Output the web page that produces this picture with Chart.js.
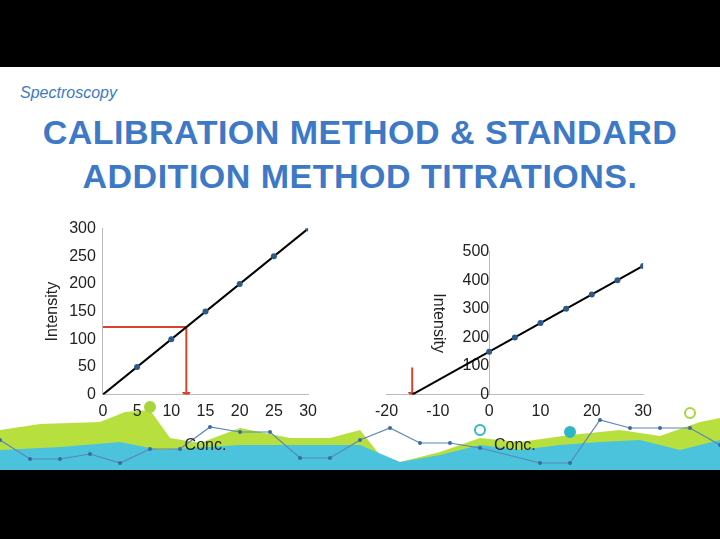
<!DOCTYPE html>
<html><head><meta charset="utf-8">
<script src="https://cdn.jsdelivr.net/npm/chart.js@4"></script>
<style>
body{margin:0;width:720px;height:539px;background:#000;position:relative;overflow:hidden;font-family:"Liberation Sans",Arial,sans-serif}
#slide{position:absolute;left:0;top:67px;width:720px;height:403px;background:#fff}
.t{position:absolute;left:0;width:720px;text-align:center;color:#3d79c6;font-weight:bold;font-size:34px;letter-spacing:0.5px}
#sub{position:absolute;left:20px;top:84px;color:#3d79c6;font-style:italic;font-size:16px}
canvas{position:absolute}
</style></head><body>
<div id="slide"></div>
<div id="sub">Spectroscopy</div>
<div class="t" style="top:113px">CALIBRATION METHOD &amp; STANDARD</div>
<div class="t" style="top:157px">ADDITION METHOD TITRATIONS.</div>
<canvas id="wave" style="left:0;top:395px;width:720px;height:75px"></canvas>
<canvas id="c1" style="left:39px;top:216px;width:281px;height:243px"></canvas>
<canvas id="c2" style="left:372px;top:239px;width:283px;height:220px"></canvas>
<script>
// calibration curve
const calX = [5, 10, 15, 20, 25, 30];
const calY = [50, 100, 150, 200, 250, 300];
const calFit = [[0, 0], [30, 300]];
const calArrow = [[0, 122], [12.2, 122], [12.2, 0]];
// standard addition
const addX = [0, 5, 10, 15, 20, 25, 30];
const addY = [150, 200, 250, 300, 350, 400, 450];
const addFit = [[-15, 0], [30, 450]];
const addArrow = [[-15, 95], [-15, 0]];
// decorative footer (pixel-ish coords)
const greenTop = [[0,430],[40,424],[100,422],[125,412],[150,410],[170,438],[200,443],[240,428],[290,438],[330,438],[360,430],[380,455],[400,462],[440,452],[480,438],[520,442],[570,435],[620,430],[660,436],[700,422],[720,418]];
const tealTop = [[0,450],[60,447],[120,442],[160,450],[240,445],[300,445],[360,445],[400,462],[440,455],[480,445],[520,450],[560,445],[600,442],[640,440],[680,450],[720,440]];
const blueLine = [[0,440],[30,459],[60,459],[90,454],[120,463],[150,449],[180,449],[210,427],[240,432],[270,432],[300,458],[330,458],[360,440],[390,428],[420,443],[450,443],[480,448],[540,463],[570,463],[600,420],[630,428],[660,428],[690,428],[720,445]];
const dots = [[150,407],[480,430],[570,432],[690,413]];

const xy = a => a.map(p => ({x: p[0], y: p[1]}));
const pts = (xs, ys) => xs.map((x, i) => ({x, y: ys[i]}));

new Chart(document.getElementById('wave'), {
  type: 'scatter',
  data: {datasets: [
    {data: xy(blueLine), showLine: true, borderColor: '#5a86b8', borderWidth: 1.2, pointRadius: 2, pointBackgroundColor: '#3d6aa0', pointBorderWidth: 0},
    {data: xy(dots), showLine: false, pointRadius: 5, pointBackgroundColor: ['#a6d63a','#fff','#2fb6c4','#fff'], pointBorderColor: ['#a6d63a','#2fb6c4','#2fb6c4','#a6d63a'], pointBorderWidth: 2},
    {data: xy(tealTop), showLine: true, fill: 'start', backgroundColor: '#4cc3dc', borderWidth: 0, pointRadius: 0},
    {data: xy(greenTop), showLine: true, fill: 'start', backgroundColor: '#b7e03e', borderWidth: 0, pointRadius: 0}
  ]},
  options: {responsive: false, animation: false, events: [],
    layout: {padding: 0, autoPadding: false},
    plugins: {legend: {display: false}, tooltip: {enabled: false}},
    scales: {x: {type: 'linear', min: 0, max: 720, display: false},
             y: {min: 395, max: 470, reverse: true, display: false}}}
});

const tickFont = {family: 'Liberation Sans', size: 16};
function axis(min, max, step, extra) {
  return Object.assign({min, max, grid: {display: false, drawTicks: true, tickLength: 4, color: '#bbb'},
    border: {color: '#bbb'}, ticks: {stepSize: step, color: '#222', font: tickFont}}, extra || {});
}

new Chart(document.getElementById('c1'), {
  type: 'scatter',
  data: {datasets: [
    {data: pts(calX, calY), pointRadius: 3, pointBackgroundColor: '#2c5a8a', pointBorderWidth: 0},
    {data: xy(calFit), showLine: true, borderColor: '#000', borderWidth: 2, pointRadius: 0},
    {data: xy(calArrow), showLine: true, borderColor: '#d5452c', borderWidth: 2, pointRadius: [0, 0, 5], pointStyle: 'triangle', rotation: 180, pointBackgroundColor: '#d5452c', pointBorderWidth: 0}
  ]},
  options: {responsive: false, animation: false, events: [],
    plugins: {legend: {display: false}},
    scales: {
      x: axis(0, 30, 5, {title: {display: true, text: 'Conc.', color: '#222', font: tickFont, padding: {top: 12}}}),
      y: axis(0, 300, 50, {title: {display: true, text: 'Intensity', color: '#222', font: tickFont}})
    }}
});

new Chart(document.getElementById('c2'), {
  type: 'scatter',
  data: {datasets: [
    {data: pts(addX, addY), pointRadius: 3, pointBackgroundColor: '#2c5a8a', pointBorderWidth: 0},
    {data: xy(addFit), showLine: true, borderColor: '#000', borderWidth: 2, pointRadius: 0},
    {data: xy(addArrow), showLine: true, borderColor: '#d5452c', borderWidth: 2, pointRadius: [0, 5], pointStyle: 'triangle', rotation: 180, pointBackgroundColor: '#d5452c', pointBorderWidth: 0}
  ]},
  options: {responsive: false, animation: false, events: [],
    plugins: {legend: {display: false}},
    scales: {
      x: axis(-20, 30, 10, {title: {display: true, text: 'Conc.', color: '#222', font: tickFont, padding: {top: 12}}}),
      y: axis(0, 500, 100, {position: {x: 0}, title: {display: true, text: 'Intensity', color: '#222', font: tickFont}})
    }}
});
</script>
</body></html>
